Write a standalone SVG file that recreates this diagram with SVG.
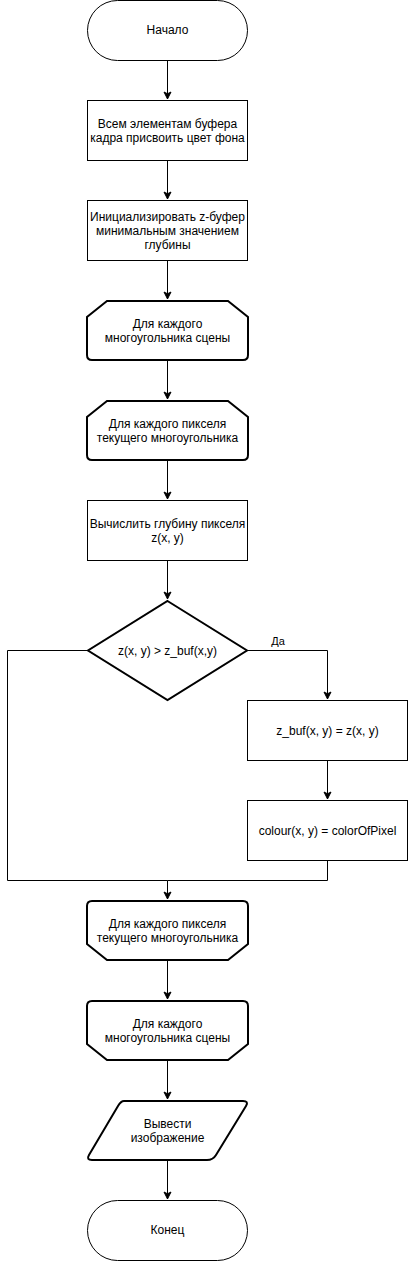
<svg xmlns="http://www.w3.org/2000/svg" width="408" height="1261" viewBox="0 0 408 1261">
<style>
.s{fill:#fff;stroke:#000;stroke-width:1}
.b{fill:#fff;stroke:#000;stroke-width:2}
.t{font-family:"Liberation Sans",Arial,sans-serif;font-size:12px;fill:#000;text-anchor:middle;dominant-baseline:central}
.c{fill:none;stroke:#000;stroke-width:1}
</style>
<defs>
<marker id="a" markerUnits="userSpaceOnUse" markerWidth="10" markerHeight="10" viewBox="-8 -5 10 10" refX="0" refY="0" orient="auto">
<path d="M0,0 L-7,-3.5 L-5.25,0 L-7,3.5 Z" fill="#000" stroke="#000" stroke-width="1"/>
</marker>
</defs>
<g id="connectors">
<path class="c" d="M167.5,60.5 V99" marker-end="url(#a)"/>
<path class="c" d="M167.5,160.5 V199" marker-end="url(#a)"/>
<path class="c" d="M167.5,260.5 V299" marker-end="url(#a)"/>
<path class="c" d="M167.5,360.5 V399" marker-end="url(#a)"/>
<path class="c" d="M167.5,460.5 V499" marker-end="url(#a)"/>
<path class="c" d="M167.5,560.5 V599" marker-end="url(#a)"/>
<path class="c" d="M247.5,650.5 H327.5 V699" marker-end="url(#a)"/>
<path class="c" d="M327.5,760.5 V799" marker-end="url(#a)"/>
<path class="c" d="M327.5,860.5 V880.5 H167.5 V899" marker-end="url(#a)"/>
<path class="c" d="M87.5,650.5 H7.5 V880.5 H167.5"/>
<path class="c" d="M167.5,960.5 V999" marker-end="url(#a)"/>
<path class="c" d="M167.5,1060.5 V1099" marker-end="url(#a)"/>
<path class="c" d="M167.5,1160.5 V1199" marker-end="url(#a)"/>
<text class="t" x="278" y="641" style="font-size:11px">Да</text>
</g>
<g id="start">
<rect class="s" x="87.5" y="0.5" width="160" height="60" rx="30" ry="30"/>
<text class="t" x="167.5" y="30">Начало</text>
</g>
<g id="fill-frame">
<rect class="s" x="87.5" y="100.5" width="160" height="60"/>
<text class="t" x="167.5" y="123.5">Всем элементам буфера</text>
<text class="t" x="167.5" y="137.5">кадра присвоить цвет фона</text>
</g>
<g id="init-zbuf">
<rect class="s" x="87.5" y="200.5" width="160" height="60"/>
<text class="t" x="167.5" y="216.5">Инициализировать z-буфер</text>
<text class="t" x="167.5" y="230.5">минимальным значением</text>
<text class="t" x="167.5" y="244.5">глубины</text>
</g>
<g id="loop-poly-start">
<path class="b" d="M107,301 H228 L248,317 V355 Q248,360 243,360 H92 Q87,360 87,355 V317 Z"/>
<text class="t" x="167.5" y="323.5">Для каждого</text>
<text class="t" x="167.5" y="337.5">многоугольника сцены</text>
</g>
<g id="loop-pixel-start">
<path class="b" d="M107,401 H228 L248,417 V455 Q248,460 243,460 H92 Q87,460 87,455 V417 Z"/>
<text class="t" x="167.5" y="423.5">Для каждого пикселя</text>
<text class="t" x="167.5" y="437.5">текущего многоугольника</text>
</g>
<g id="calc-depth">
<rect class="s" x="87.5" y="500.5" width="160" height="60"/>
<text class="t" x="167.5" y="523.5">Вычислить глубину пикселя</text>
<text class="t" x="167.5" y="537.5">z(x, y)</text>
</g>
<g id="decision">
<polygon class="b" points="167.5,601 247,650.5 167.5,700 88,650.5"/>
<text class="t" x="167.5" y="650.5">z(x, y) &gt; z_buf(x,y)</text>
</g>
<g id="set-zbuf">
<rect class="s" x="247.5" y="700.5" width="160" height="60"/>
<text class="t" x="327.5" y="730.5">z_buf(x, y) = z(x, y)</text>
</g>
<g id="set-colour">
<rect class="s" x="247.5" y="800.5" width="160" height="60"/>
<text class="t" x="327.5" y="830.5">colour(x, y) = colorOfPixel</text>
</g>
<g id="loop-pixel-end">
<path class="b" d="M92,901 H243 Q248,901 248,906 V944 L228,960 H107 L87,944 V906 Q87,901 92,901 Z"/>
<text class="t" x="167.5" y="923.5">Для каждого пикселя</text>
<text class="t" x="167.5" y="937.5">текущего многоугольника</text>
</g>
<g id="loop-poly-end">
<path class="b" d="M92,1001 H243 Q248,1001 248,1006 V1044 L228,1060 H107 L87,1044 V1006 Q87,1001 92,1001 Z"/>
<text class="t" x="167.5" y="1023.5">Для каждого</text>
<text class="t" x="167.5" y="1037.5">многоугольника сцены</text>
</g>
<g id="output">
<path class="b" d="M124,1101 H243 Q249,1101 246,1106 L216,1155 Q213,1160 207,1160 H92 Q86,1160 89,1155 L118,1106 Q121,1101 124,1101 Z"/>
<text class="t" x="167.5" y="1123.5">Вывести</text>
<text class="t" x="167.5" y="1137.5">изображение</text>
</g>
<g id="end">
<rect class="s" x="87.5" y="1200.5" width="160" height="60" rx="30" ry="30"/>
<text class="t" x="167.5" y="1230">Конец</text>
</g>
</svg>
